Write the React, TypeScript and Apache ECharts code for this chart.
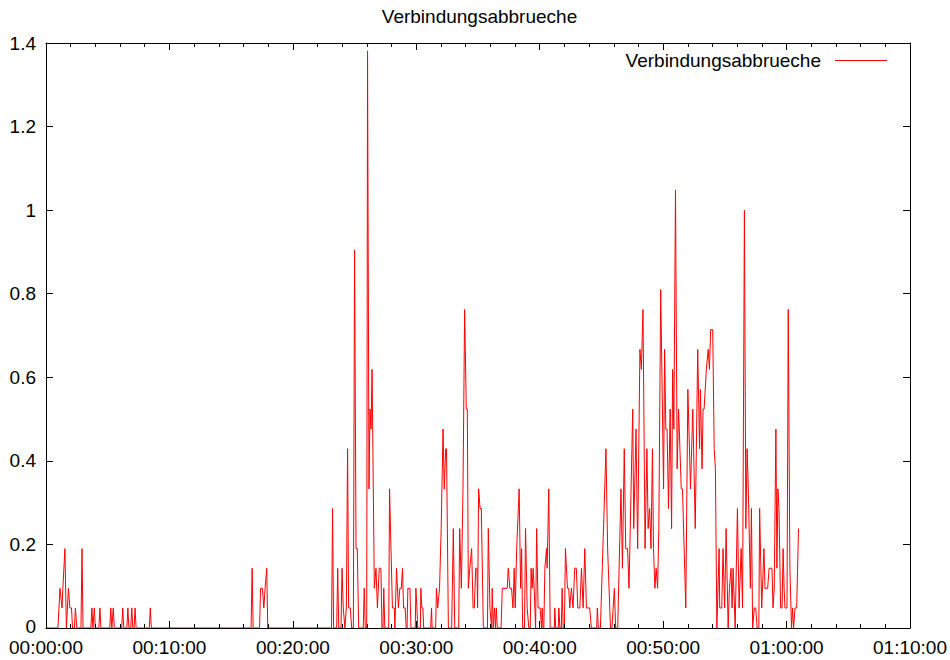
import React, { useEffect, useRef } from "react";
import * as echarts from "echarts";

const TITLE = "Verbindungsabbrueche";
const SERIES_NAME = "Verbindungsabbrueche";

const X_MIN = 0;
const X_MAX = 4200; // 01:10:00 in seconds
const X_INTERVAL = 600; // 10 minutes
const Y_MIN = 0;
const Y_MAX = 1.4;
const Y_INTERVAL = 0.2;

// [seconds since start, value]
const segStart: [number, number][] = [
  [0, 0], [58, 0], [68, 0.095], [78, 0.048], [82, 0.095], [92, 0.19], [99, 0],
  [109, 0.095], [116, 0.048], [124, 0.048], [129, 0], [138, 0], [143, 0.048], [150, 0],
  [170, 0], [175, 0.19], [180, 0], [218, 0], [223, 0.048], [228, 0], [231, 0],
  [235, 0.048], [240, 0], [257, 0], [262, 0.048], [267, 0], [310, 0], [315, 0.048],
  [320, 0], [322, 0], [327, 0.048], [332, 0], [368, 0], [373, 0.048], [378, 0],
  [393, 0], [398, 0.048], [403, 0], [412, 0], [417, 0.048], [422, 0], [428, 0],
  [433, 0.048], [438, 0], [502, 0], [507, 0.048], [512, 0],
];

const segMid: [number, number][] = [
  [997, 0], [1002, 0.143], [1007, 0], [1038, 0], [1043, 0.095], [1052, 0.095],
  [1059, 0.048], [1065, 0.095], [1073, 0.143], [1078, 0],
];

const segBurst1: [number, number][] = [
  [1388, 0], [1393, 0.286], [1398, 0], [1413, 0], [1418, 0.143], [1423, 0], [1434, 0],
  [1439, 0.143], [1445, 0.048], [1453, 0], [1460, 0.048], [1466, 0.429], [1471, 0.048],
  [1479, 0.048], [1486, 0], [1494, 0], [1500, 0.905], [1507, 0.19], [1513, 0.19],
  [1520, 0], [1542, 0], [1547, 0.095], [1552, 0], [1559, 0], [1563, 1.381],
  [1570, 0.333], [1575, 0.524], [1580, 0.476], [1585, 0.619], [1596, 0.095],
  [1604, 0.143], [1611, 0.048], [1620, 0.143], [1628, 0.143], [1633, 0], [1638, 0],
  [1642, 0.095], [1647, 0], [1666, 0], [1670, 0.333], [1684, 0.048], [1693, 0.048],
  [1696, 0],
];

const segBurst2: [number, number][] = [
  [1704, 0.143], [1713, 0.048], [1720, 0.095], [1727, 0.095], [1733, 0.143],
  [1738, 0.048], [1746, 0.048], [1751, 0], [1755, 0], [1759, 0.095], [1769, 0.095],
  [1774, 0], [1795, 0], [1798, 0.095], [1803, 0.048], [1807, 0], [1820, 0],
  [1822, 0.095], [1827, 0.048], [1832, 0.048], [1836, 0], [1870, 0], [1874, 0.048],
  [1877, 0], [1894, 0], [1898, 0.095], [1904, 0.048], [1913, 0.095], [1921, 0.238],
  [1930, 0.476], [1936, 0.333], [1943, 0.429], [1947, 0.429], [1956, 0], [1972, 0],
  [1980, 0.238], [1987, 0], [2006, 0],
];

const segBurst3: [number, number][] = [
  [2011, 0.238], [2019, 0.095], [2027, 0.333], [2035, 0.762], [2043, 0.524],
  [2048, 0.524], [2053, 0.095], [2060, 0.143], [2069, 0.19], [2076, 0.048],
  [2082, 0.048], [2089, 0.143], [2095, 0.143], [2098, 0.048], [2103, 0.333],
  [2110, 0.286], [2116, 0.286], [2126, 0], [2146, 0], [2150, 0.238], [2158, 0.048],
  [2166, 0], [2169, 0.095], [2174, 0], [2180, 0.048], [2185, 0], [2189, 0.048],
  [2194, 0], [2212, 0], [2218, 0.095], [2242, 0.095], [2247, 0.143], [2255, 0.095],
  [2263, 0.095], [2270, 0.048], [2276, 0.143], [2281, 0.048], [2288, 0.19],
  [2300, 0.333], [2307, 0.095], [2312, 0.19], [2317, 0], [2326, 0], [2331, 0.238],
  [2339, 0.048], [2347, 0], [2354, 0], [2358, 0.143], [2363, 0.095], [2368, 0.143],
  [2373, 0.095], [2380, 0], [2385, 0.238], [2392, 0.048], [2402, 0.048], [2409, 0],
  [2412, 0.048], [2416, 0], [2420, 0], [2425, 0.143], [2433, 0.19], [2436, 0.143],
  [2444, 0.333], [2451, 0],
];

const segBurst4: [number, number][] = [
  [2471, 0], [2473, 0.048], [2478, 0], [2490, 0], [2493, 0.048], [2498, 0], [2505, 0],
  [2509, 0.095], [2514, 0], [2520, 0], [2525, 0.19], [2535, 0.095], [2541, 0.095],
  [2546, 0.048], [2554, 0.095], [2562, 0.048], [2570, 0.143], [2578, 0.143],
  [2585, 0.048], [2595, 0.048], [2603, 0.143], [2611, 0.048], [2619, 0.19],
  [2627, 0.048], [2643, 0.048], [2651, 0], [2677, 0], [2680, 0.048], [2685, 0],
  [2695, 0],
];

const segBurst5: [number, number][] = [
  [2722, 0.429], [2730, 0.19], [2744, 0], [2751, 0], [2763, 0.095], [2769, 0],
  [2779, 0], [2795, 0.333], [2802, 0.143], [2811, 0.429], [2818, 0.19], [2827, 0.19],
  [2834, 0.095], [2852, 0.524], [2857, 0.238], [2868, 0.476], [2876, 0.19],
  [2887, 0.667], [2894, 0.619], [2902, 0.762], [2912, 0.19], [2921, 0.429],
  [2927, 0.238], [2934, 0.286], [2941, 0.19], [2948, 0.429], [2953, 0.19],
  [2960, 0.095], [2966, 0.143], [2973, 0.095], [2979, 0.238], [2988, 0.81],
];

const segBurst6: [number, number][] = [
  [3002, 0.333], [3007, 0.667], [3013, 0.476], [3019, 0.476], [3026, 0.286],
  [3034, 0.524], [3041, 0.238], [3046, 0.619], [3052, 0.476], [3060, 1.048],
  [3068, 0.381], [3075, 0.524], [3088, 0.333], [3094, 0.333], [3110, 0.048],
  [3120, 0.571], [3133, 0.333], [3144, 0.524], [3156, 0.238], [3168, 0.667],
  [3177, 0.429], [3181, 0.571], [3189, 0.381], [3194, 0.524], [3199, 0.524],
  [3210, 0.619], [3219, 0.667], [3225, 0.619], [3231, 0.714], [3241, 0.714],
  [3248, 0.429], [3254, 0.381], [3261, 0],
];

const segEnd: [number, number][] = [
  [3272, 0.19], [3275, 0.048], [3285, 0.048], [3291, 0.19], [3299, 0.048],
  [3306, 0.238], [3316, 0], [3322, 0.095], [3330, 0.143], [3335, 0.048],
  [3340, 0.143], [3350, 0], [3361, 0.286], [3369, 0.048], [3379, 0.19],
  [3386, 0.048], [3395, 1.0], [3402, 0.238], [3408, 0.429], [3414, 0.333],
  [3424, 0.095], [3429, 0.286], [3435, 0], [3443, 0.048], [3450, 0.048], [3457, 0],
  [3465, 0], [3469, 0.286], [3479, 0.048], [3490, 0.19], [3495, 0.095],
  [3508, 0.095], [3515, 0.143], [3529, 0.143], [3534, 0.048], [3540, 0.095],
  [3548, 0.476], [3553, 0.143], [3558, 0.333], [3563, 0.286], [3571, 0.048],
  [3578, 0.048], [3583, 0.19], [3588, 0.095], [3592, 0.048], [3602, 0.048],
  [3608, 0.762], [3616, 0.143], [3624, 0], [3629, 0.048], [3634, 0], [3641, 0.048],
  [3649, 0.048], [3658, 0.238],
];

const samples: [number, number][] = [
  ...segStart, ...segMid, ...segBurst1, ...segBurst2, ...segBurst3,
  ...segBurst4, ...segBurst5, ...segBurst6, ...segEnd,
];

function pad2(n: number): string {
  return n < 10 ? "0" + n : String(n);
}

function formatTime(value: number): string {
  const s = Math.round(value);
  const h = Math.floor(s / 3600);
  const m = Math.floor((s % 3600) / 60);
  const sec = s % 60;
  return pad2(h) + ":" + pad2(m) + ":" + pad2(sec);
}

function formatY(value: number): string {
  const txt = String(Math.round(value * 10) / 10);
  return value === 0 ? "{zero|" + txt + "}" : txt;
}

const FONT = "'Liberation Sans', Arial, Helvetica, sans-serif";
const FONT_SIZE = 19;
const BLACK = "#000000";
const RED = "#ff0000";

export default function App() {
  const ref = useRef<HTMLDivElement>(null);

  useEffect(() => {
    if (!ref.current) return;
    const chart = echarts.init(ref.current, null, { renderer: "svg" });

    const lineStyle = { color: BLACK, width: 1 };
    const xBase = {
      type: "value" as const,
      min: X_MIN,
      max: X_MAX,
      interval: X_INTERVAL,
      z: 5,
      axisLine: { show: true, onZero: false, lineStyle },
      axisTick: { show: true, inside: true, length: 7, lineStyle },
      minorTick: { show: true, splitNumber: 5, length: 4, lineStyle },
      splitLine: { show: false },
      minorSplitLine: { show: false },
    };
    const yBase = {
      type: "value" as const,
      min: Y_MIN,
      max: Y_MAX,
      interval: Y_INTERVAL,
      z: 5,
      axisLine: { show: true, onZero: false, lineStyle },
      axisTick: { show: true, inside: true, length: 7, lineStyle },
      splitLine: { show: false },
    };

    chart.setOption({
      animation: false,
      backgroundColor: "#ffffff",
      textStyle: { fontFamily: FONT },
      title: {
        text: TITLE,
        left: 479.5,
        textAlign: "center",
        top: 7,
        padding: 0,
        textStyle: {
          fontFamily: FONT,
          fontSize: FONT_SIZE,
          fontWeight: "normal",
          color: BLACK,
        },
      },
      legend: {
        data: [SERIES_NAME],
        right: 63,
        top: 51,
        align: "right",
        icon: "rect",
        itemWidth: 52,
        itemHeight: 1,
        padding: 0,
        textStyle: {
          fontFamily: FONT,
          fontSize: FONT_SIZE,
          color: BLACK,
          padding: [0, 9, 0, 0],
        },
      },
      grid: { left: 46, right: 38, top: 43, bottom: 32, containLabel: false },
      xAxis: [
        {
          ...xBase,
          position: "bottom",
          axisLabel: {
            show: true,
            formatter: (v: number) => formatTime(v),
            color: BLACK,
            fontFamily: FONT,
            fontSize: FONT_SIZE,
            lineHeight: 16,
            margin: 11,
          },
        },
        {
          ...xBase,
          position: "top",
          axisLabel: { show: false },
        },
      ],
      yAxis: [
        {
          ...yBase,
          position: "left",
          axisLabel: {
            show: true,
            formatter: formatY,
            color: BLACK,
            fontFamily: FONT,
            fontSize: FONT_SIZE,
            lineHeight: 16,
            margin: 10,
            rich: {
              zero: {
                color: BLACK,
                fontFamily: FONT,
                fontSize: FONT_SIZE,
                lineHeight: 16,
                padding: [0, 0, 4, 0],
              },
            },
          },
        },
        {
          ...yBase,
          position: "right",
          axisLabel: { show: false },
        },
      ],
      series: [
        {
          name: SERIES_NAME,
          type: "line",
          xAxisIndex: 0,
          yAxisIndex: 0,
          data: samples,
          symbol: "none",
          showSymbol: false,
          clip: true,
          z: 2,
          lineStyle: { color: RED, width: 1 },
          itemStyle: { color: RED },
        },
      ],
    });

    return () => {
      chart.dispose();
    };
  }, []);

  return (
    <div
      ref={ref}
      style={{ position: "fixed", left: 0, top: 0, width: 950, height: 660, background: "#ffffff" }}
    />
  );
}
